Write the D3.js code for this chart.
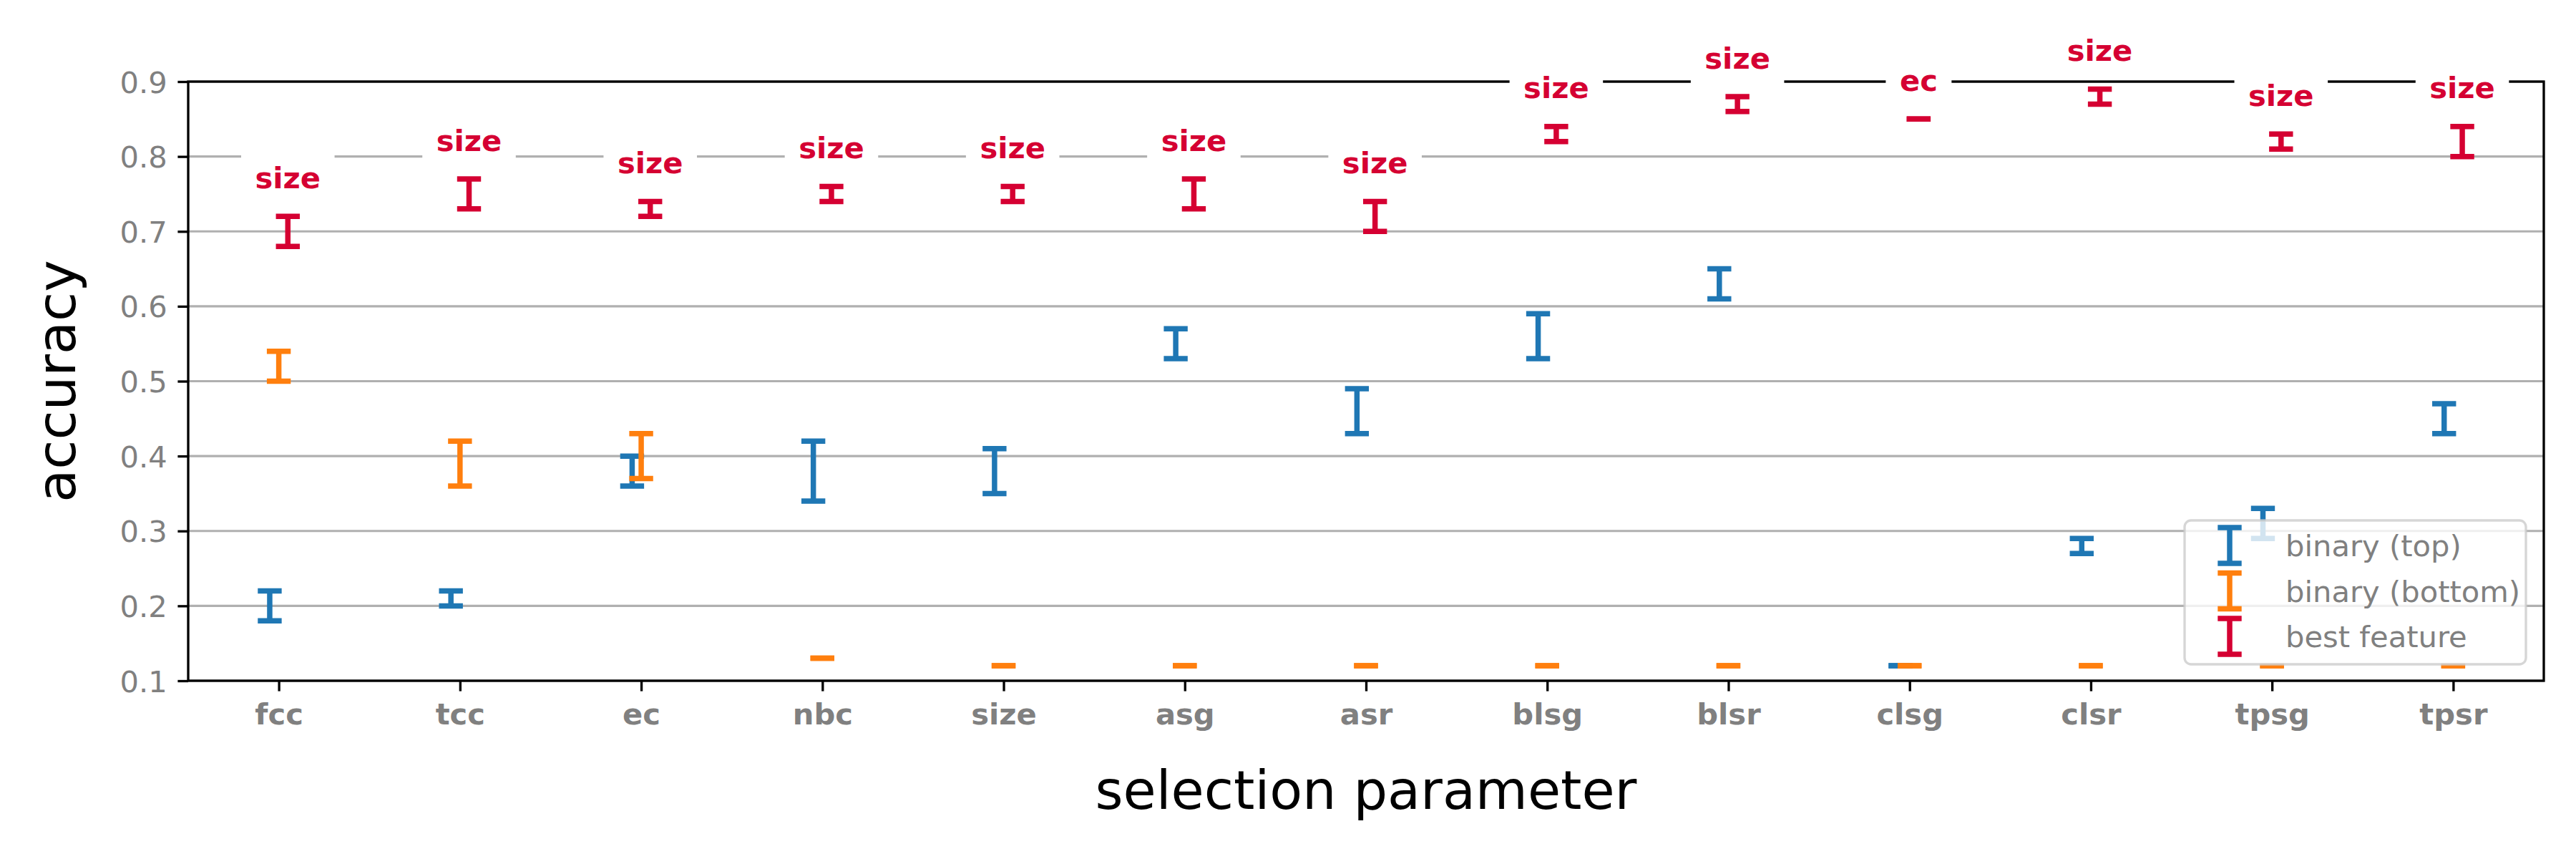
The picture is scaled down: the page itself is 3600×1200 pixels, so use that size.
<!DOCTYPE html>
<html>
<head>
<meta charset="utf-8">
<script src="https://cdn.jsdelivr.net/npm/d3@7"></script>
<style>
  html, body { margin: 0; padding: 0; background: #ffffff; }
  svg { display: block; }
</style>
</head>
<body>
<svg id="chart" width="3600" height="1200"></svg>
<script>
// ---------- data ----------
const categories = ["fcc","tcc","ec","nbc","size","asg","asr","blsg","blsr","clsg","clsr","tpsg","tpsr"];
const topLow     = [0.18,0.20,0.36,0.34,0.35,0.53,0.43,0.53,0.61,0.12,0.27,0.29,0.43];
const topHigh    = [0.22,0.22,0.40,0.42,0.41,0.57,0.49,0.59,0.65,0.12,0.29,0.33,0.47];
const bottomLow  = [0.50,0.36,0.37,0.13,0.12,0.12,0.12,0.12,0.12,0.12,0.12,0.12,0.12];
const bottomHigh = [0.54,0.42,0.43,0.13,0.12,0.12,0.12,0.12,0.12,0.12,0.12,0.12,0.12];
const bestLow    = [0.68,0.73,0.72,0.74,0.74,0.73,0.70,0.82,0.86,0.85,0.87,0.81,0.80];
const bestHigh   = [0.72,0.77,0.74,0.76,0.76,0.77,0.74,0.84,0.88,0.85,0.89,0.83,0.84];
const bestFeature = ["size","size","size","size","size","size","size","size","size","ec","size","size","size"];
const yTicks = [0.1,0.2,0.3,0.4,0.5,0.6,0.7,0.8,0.9];
const seriesNames = ["binary (top)","binary (bottom)","best feature"];
const seriesColors = ["#1f77b4","#ff7f0e","#d50032"];
const seriesOffsets = [-0.05, 0, 0.05];

// ---------- layout ----------
const L = 263, R = 3555, T = 114, B = 951;
const FS = 41.67;          // 10pt at 300dpi
const LW = 7.5;            // error bar line width
const CAP = 16.7;          // half cap width
const TICKC = "#808080";
const FONT = "DejaVu Sans, Verdana, sans-serif";

const svg = d3.select("#chart");
svg.append("rect").attr("width",3600).attr("height",1200).attr("fill","#fff");

const x = d3.scalePoint().domain(categories).range([L, R]).padding(0.5);
const step = x.step();
const y = d3.scaleLinear().domain([0.1, 0.9]).range([B, T]);

// gridlines
svg.append("g").selectAll("line").data(yTicks).join("line")
  .attr("x1", L).attr("x2", R)
  .attr("y1", d => y(d)).attr("y2", d => y(d))
  .attr("stroke", "#b0b0b0").attr("stroke-width", 3.2);

// error bars
const series = [
  {lo: topLow, hi: topHigh},
  {lo: bottomLow, hi: bottomHigh},
  {lo: bestLow, hi: bestHigh}
];
series.forEach((s, si) => {
  const g = svg.append("g");
  categories.forEach((c, i) => {
    const cx = x(c) + seriesOffsets[si] * step;
    const y1 = y(s.lo[i]), y2 = y(s.hi[i]);
    if (Math.abs(y1 - y2) > 0.5) {
      g.append("line").attr("x1", cx).attr("x2", cx).attr("y1", y1).attr("y2", y2)
        .attr("stroke", seriesColors[si]).attr("stroke-width", LW);
    }
    [y1, y2].forEach(yy => {
      g.append("line").attr("x1", cx - CAP).attr("x2", cx + CAP).attr("y1", yy).attr("y2", yy)
        .attr("stroke", seriesColors[si]).attr("stroke-width", LW);
    });
  });
});

// spines
const sp = svg.append("g").attr("stroke", "#000").attr("stroke-width", 3.33).attr("fill", "none");
sp.append("rect").attr("x", L).attr("y", T).attr("width", R - L).attr("height", B - T);

// y axis
const yAxis = d3.axisLeft(y).tickValues(yTicks).tickFormat(d3.format(".1f"))
  .tickSize(14.6).tickPadding(14.6);
const gy = svg.append("g").attr("transform", `translate(${L},0)`).call(yAxis);
gy.select(".domain").remove();
gy.selectAll(".tick line").attr("stroke", "#000").attr("stroke-width", 3.33);
gy.selectAll(".tick text").attr("fill", TICKC).attr("font-size", FS).attr("font-family", FONT)
  .attr("dy", "0.36em");

// x axis
const xAxis = d3.axisBottom(x).tickSize(14.6).tickPadding(14.6);
const gx = svg.append("g").attr("transform", `translate(0,${B})`).call(xAxis);
gx.select(".domain").remove();
gx.selectAll(".tick line").attr("stroke", "#000").attr("stroke-width", 3.33);
gx.selectAll(".tick text").attr("fill", TICKC).attr("font-size", FS).attr("font-family", FONT)
  .attr("font-weight", "bold").attr("dy", "0.76em");

// best feature labels with white boxes
const lab = svg.append("g");
categories.forEach((c, i) => {
  const cx = x(c) + seriesOffsets[2] * step;
  const base = y(bestHigh[i] + 0.03) - 8;
  const gg = lab.append("g");
  const rect = gg.append("rect").attr("fill", "#fff");
  const t = gg.append("text").attr("x", cx).attr("y", base)
    .attr("text-anchor", "middle").attr("font-family", FONT).attr("font-weight", "bold")
    .attr("font-size", FS).attr("fill", seriesColors[2]).text(bestFeature[i]);
  const w = t.node().getComputedTextLength();
  rect.attr("x", cx - w / 2 - 19.5).attr("width", w + 39)
    .attr("y", base - 0.93 * FS - 14).attr("height", 0.93 * FS + 14 + 24);
});

// axis labels
svg.append("text").attr("transform", `translate(105,${(T + B) / 2}) rotate(-90)`)
  .attr("text-anchor", "middle").attr("font-family", FONT).attr("font-size", 75)
  .attr("fill", "#000").text("accuracy");
svg.append("text").attr("x", (L + R) / 2).attr("y", 1130)
  .attr("text-anchor", "middle").attr("font-family", FONT).attr("font-size", 75)
  .attr("fill", "#000").text("selection parameter");

// legend
const lgR = R - 25, lgB = B - 23, lgW = 477, lgH = 201;
const lg = svg.append("g");
lg.append("rect").attr("x", lgR - lgW).attr("y", lgB - lgH).attr("width", lgW).attr("height", lgH)
  .attr("rx", 9).attr("ry", 9)
  .attr("fill", "#fff").attr("fill-opacity", 0.8)
  .attr("stroke", "#cccccc").attr("stroke-opacity", 0.8).attr("stroke-width", 3.33);
seriesNames.forEach((name, si) => {
  const cy = lgB - lgH + 35 + si * 63.5;
  const hx = lgR - lgW + 63;
  const gg = lg.append("g").attr("stroke", seriesColors[si]).attr("stroke-width", LW);
  gg.append("line").attr("x1", hx).attr("x2", hx).attr("y1", cy - 25).attr("y2", cy + 25);
  gg.append("line").attr("x1", hx - CAP).attr("x2", hx + CAP).attr("y1", cy - 25).attr("y2", cy - 25);
  gg.append("line").attr("x1", hx - CAP).attr("x2", hx + CAP).attr("y1", cy + 25).attr("y2", cy + 25);
  lg.append("text").attr("x", lgR - lgW + 141).attr("y", cy + 15)
    .attr("font-family", FONT).attr("font-size", FS).attr("fill", TICKC).text(name);
});
</script>
</body>
</html>
